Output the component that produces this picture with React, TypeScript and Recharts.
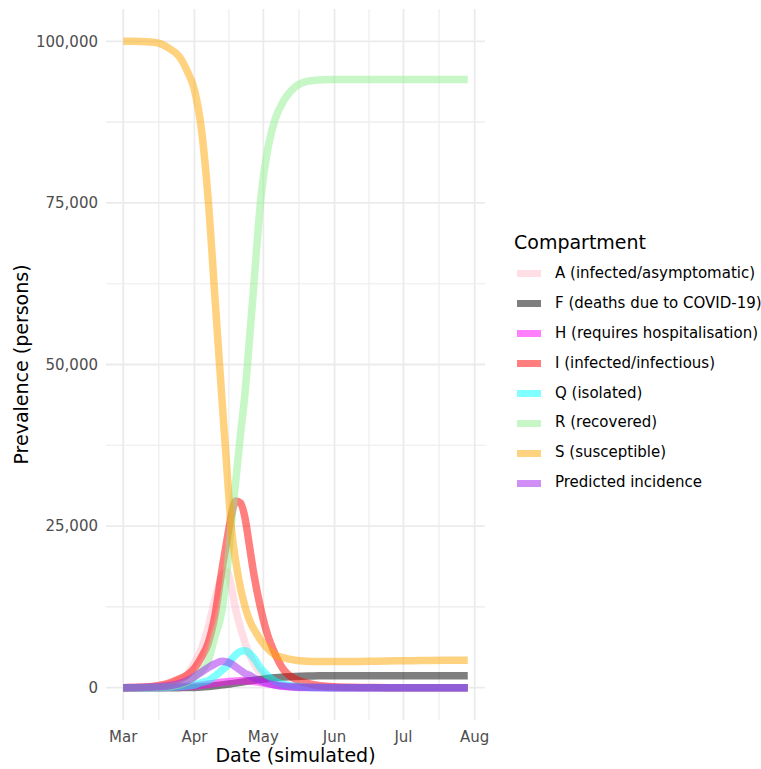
import { CartesianGrid, Line, LineChart, XAxis, YAxis } from "recharts";

const START = Date.UTC(2020, 2, 1);
const DAY = 86400000;

// days since 1 March 2020
const days = [0, 5, 10, 15, 20, 24, 28, 31, 34, 37, 40, 43, 45, 47, 49, 51, 53, 55, 57, 60, 63, 66, 70, 75, 80, 85, 90, 100, 110, 120, 130, 140, 150];

const asymptomatic = [0, 20, 60, 200, 500, 1100, 2100, 3800, 6000, 9300, 13800, 17300, 18000, 15800, 12000, 9300, 7000, 5100, 3700, 2200, 1300, 750, 350, 150, 50, 20, 0, 0, 0, 0, 0, 0, 0];
const deaths = [0, 0, 0, 0, 0, 5, 15, 40, 90, 170, 290, 430, 520, 600, 700, 820, 940, 1050, 1150, 1290, 1420, 1530, 1640, 1740, 1800, 1830, 1840, 1850, 1850, 1850, 1850, 1850, 1850];
const hospital = [0, 0, 10, 30, 60, 110, 180, 260, 380, 520, 680, 830, 920, 990, 1040, 1060, 1060, 1020, 950, 800, 620, 450, 270, 130, 60, 25, 10, 0, 0, 0, 0, 0, 0];
const infectious = [0, 40, 100, 300, 700, 1300, 2000, 3000, 4700, 6900, 11300, 18300, 22500, 26500, 28900, 28600, 26300, 21800, 17300, 12000, 8000, 5300, 2700, 1300, 700, 350, 180, 50, 10, 0, 0, 0, 0];
const isolated = [0, 0, 0, 20, 60, 130, 280, 450, 800, 1100, 1800, 2700, 3300, 4300, 5100, 5600, 5700, 5300, 4500, 2900, 1800, 1000, 500, 200, 80, 30, 0, 0, 0, 0, 0, 0, 0];
const recovered = [0, 0, 20, 60, 150, 400, 900, 1700, 2600, 4200, 8000, 12000, 17500, 25000, 32000, 39000, 45500, 54000, 63000, 76000, 83500, 87800, 90900, 93000, 93800, 94000, 94100, 94100, 94100, 94100, 94100, 94100, 94100];
const susceptible = [100000, 100000, 99950, 99750, 98900, 97800, 95300, 92500, 86500, 75500, 60000, 44500, 34500, 25000, 19500, 15500, 12600, 10400, 9000, 7300, 6000, 5100, 4600, 4250, 4100, 4050, 4050, 4050, 4100, 4150, 4200, 4250, 4250];
const incidence = [0, 20, 60, 130, 300, 600, 1100, 1700, 2400, 3100, 3700, 4100, 4000, 3700, 3200, 2700, 2200, 1900, 1500, 1050, 650, 400, 200, 80, 30, 10, 0, 0, 0, 0, 0, 0, 0];

const series = [
  { key: "A", name: "A (infected/asymptomatic)", color: "#FFC0CB", values: asymptomatic },
  { key: "F", name: "F (deaths due to COVID-19)", color: "#000000", values: deaths },
  { key: "H", name: "H (requires hospitalisation)", color: "#FF00FF", values: hospital },
  { key: "I", name: "I (infected/infectious)", color: "#FF0000", values: infectious },
  { key: "Q", name: "Q (isolated)", color: "#00FFFF", values: isolated },
  { key: "R", name: "R (recovered)", color: "#90EE90", values: recovered },
  { key: "S", name: "S (susceptible)", color: "#FFA500", values: susceptible },
  { key: "P", name: "Predicted incidence", color: "#A020F0", values: incidence },
];

const monthStarts = ["2020-03-01", "2020-04-01", "2020-05-01", "2020-06-01", "2020-07-01", "2020-08-01"];
const monthLabels = ["Mar", "Apr", "May", "Jun", "Jul", "Aug"];
const yTicks = [0, 25000, 50000, 75000, 100000];

const xTicks = monthStarts.map((d) => Date.parse(d));
const xMinor = xTicks.slice(1).map((t, i) => (t + xTicks[i]) / 2);
const yMinor = yTicks.slice(1).map((v, i) => (v + yTicks[i]) / 2);

const data = days.map((d, i) => {
  const row: Record<string, number> = { t: START + d * DAY };
  series.forEach((s) => (row[s.key] = s.values[i]));
  return row;
});

const xPad = (days[days.length - 1] - days[0]) * 0.05;
const xDomain = [START + (days[0] - xPad) * DAY, START + (days[days.length - 1] + xPad) * DAY];

const FONT = "'DejaVu Sans', sans-serif";
const tick = { fill: "#4D4D4D", fontSize: 15, fontFamily: FONT };

export default function App() {
  return (
    <div style={{ position: "absolute", left: 0, top: 0, width: 761, height: 769, fontFamily: FONT, background: "#fff" }}>
      <LineChart width={761} height={769} data={data} margin={{ top: 9, right: 276, bottom: 0, left: 0 }}>
        <CartesianGrid stroke="#EBEBEB" strokeWidth={1.1} horizontalValues={yMinor} verticalValues={xMinor} />
        <CartesianGrid stroke="#EBEBEB" strokeWidth={1.8} horizontalValues={yTicks} verticalValues={xTicks} />
        <XAxis
          dataKey="t"
          type="number"
          domain={xDomain}
          allowDataOverflow
          ticks={xTicks}
          tickFormatter={(t: number) => monthLabels[xTicks.indexOf(t)]}
          tick={tick}
          tickLine={false}
          tickSize={0}
          tickMargin={11}
          axisLine={false}
          height={49}
          label={(props: any) => {
            const vb = props.viewBox;
            return (
              <text x={vb.x + vb.width / 2} y={vb.y + 42} textAnchor="middle" fontSize={19} fill="#000" fontFamily={FONT}>
                Date (simulated)
              </text>
            );
          }}
        />
        <YAxis
          type="number"
          domain={[-5000, 105000]}
          allowDataOverflow
          ticks={yTicks}
          tickFormatter={(v: number) => v.toLocaleString("en-US")}
          tick={tick}
          tickLine={false}
          tickSize={0}
          tickMargin={8}
          axisLine={false}
          width={106}
          label={(props: any) => {
            const vb = props.viewBox;
            const cx = vb.x + 28;
            const cy = vb.y + vb.height / 2;
            return (
              <text x={cx} y={cy} transform={`rotate(-90, ${cx}, ${cy})`} textAnchor="middle" fontSize={19} fill="#000" fontFamily={FONT}>
                Prevalence (persons)
              </text>
            );
          }}
        />
        {series.map((s) => (
          <Line
            key={s.key}
            type="monotone"
            dataKey={s.key}
            name={s.name}
            stroke={s.color}
            strokeOpacity={0.5}
            strokeWidth={7.5}
            dot={false}
            activeDot={false}
            isAnimationActive={false}
          />
        ))}
      </LineChart>
      <div style={{ position: "absolute", left: 514, top: 230, fontSize: 19, lineHeight: "24px", color: "#000" }}>Compartment</div>
      <div style={{ position: "absolute", left: 517, top: 259, fontSize: 15, color: "#000" }}>
        {series.map((s) => (
          <div key={s.key} style={{ display: "flex", alignItems: "center", height: 29.9 }}>
            <div style={{ width: 24, height: 7, background: s.color, opacity: 0.5 }} />
            <span style={{ marginLeft: 14, lineHeight: "29.9px", whiteSpace: "nowrap" }}>{s.name}</span>
          </div>
        ))}
      </div>
    </div>
  );
}
